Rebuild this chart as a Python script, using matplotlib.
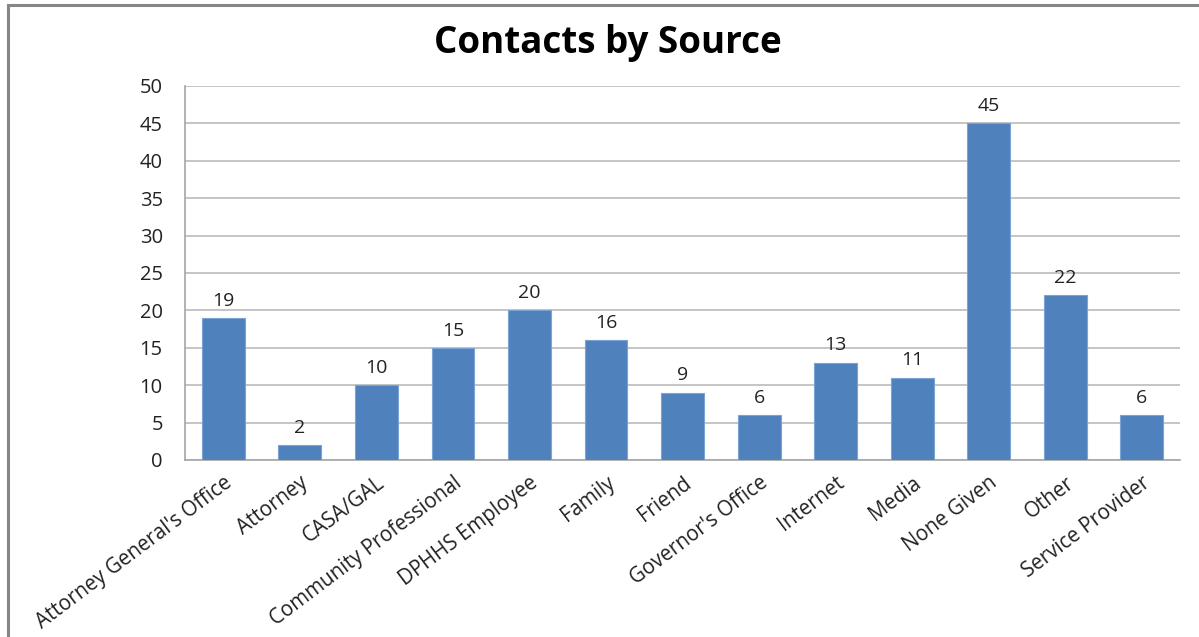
import matplotlib

matplotlib.use("Agg")
import matplotlib.pyplot as plt
from matplotlib.patches import Rectangle

# Datos
fuentes = [
    "Attorney General's Office", "Attorney", "CASA/GAL", "Community Professional",
    "DPHHS Employee", "Family", "Friend", "Governor's Office", "Internet",
    "Media", "None Given", "Other", "Service Provider",
]
contactos = [19, 2, 10, 15, 20, 16, 9, 6, 13, 11, 45, 22, 6]
ticks_y = [0, 5, 10, 15, 20, 25, 30, 35, 40, 45, 50]

plt.rcParams["font.family"] = ["Open Sans", "DejaVu Sans"]

fig = plt.figure(figsize=(11.99, 6.37), dpi=100)
ax = fig.add_axes([0.1543, 0.278, 0.830, 0.587])

x = range(len(fuentes))
ax.bar(x, contactos, width=0.56, color="#4F81BD", edgecolor="#7BA3D3",
       linewidth=0.8, zorder=3)
for xi, v in zip(x, contactos):
    ax.text(xi, v + 1.1, str(v), ha="center", va="bottom", fontsize=14, color="#222222")

ax.set_xlim(-0.5, len(fuentes) - 0.5)
ax.set_ylim(0, 50)
ax.set_yticks(ticks_y)
ax.set_yticklabels([str(t) for t in ticks_y], fontsize=14.5)
ax.set_xticks(list(x))
ax.set_xticklabels(fuentes, rotation=37, ha="right", rotation_mode="anchor", fontsize=14.8)
ax.tick_params(axis="y", length=0, pad=16, colors="#222222")
ax.tick_params(axis="x", length=0, pad=9, colors="#222222")
ax.yaxis.grid(True, color="#BBBBBB", linewidth=1.2, zorder=0)
for lado in ["top", "right"]:
    ax.spines[lado].set_visible(False)
for lado in ["left", "bottom"]:
    ax.spines[lado].set_color("#A6A6A6")
    ax.spines[lado].set_linewidth(1.2)

fig.text(0.507, 0.933, "Contacts by Source", ha="center", va="center",
         fontsize=26.5, fontweight="bold")

# Marco exterior del área del gráfico (se sale por la derecha y por abajo)
arriba = 1 - 5 / 637
fig.patches.append(Rectangle((8 / 1199, -0.05), 1.1, arriba + 0.05,
                             transform=fig.transFigure, fill=False,
                             edgecolor="#868686", linewidth=2.2))

fig.savefig("out.png", dpi=100)
plt.close("all")
